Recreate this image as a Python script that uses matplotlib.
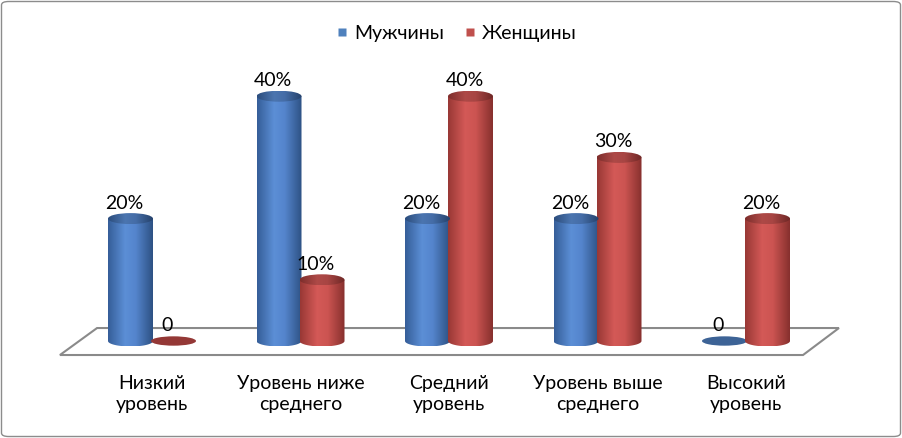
import numpy as np
import matplotlib
matplotlib.use("Agg")
import matplotlib.pyplot as plt
from matplotlib.patches import Ellipse, Polygon, FancyBboxPatch
from matplotlib.lines import Line2D
from matplotlib.path import Path

plt.rcParams['font.family'] = ['Lato', 'DejaVu Sans']

# data
categories = ["Низкий\nуровень", "Уровень ниже\nсреднего", "Средний\nуровень",
              "Уровень выше\nсреднего", "Высокий\nуровень"]
men = [20, 40, 20, 20, 0]
women = [0, 10, 40, 30, 20]
series_names = ["Мужчины", "Женщины"]

# look
px_x = 148.5          # pixels per category
px_y = 6.12           # pixels per percent
half_w = 22.5 / px_x  # cylinder half width (category units)
half_h = 5.5 / px_y   # ellipse half height (percent units)
offset = 21.5 / px_x

stops_blue = [(0.0, (0.21, 0.37, 0.60)), (0.38, (0.36, 0.56, 0.84)),
              (0.62, (0.33, 0.52, 0.80)), (1.0, (0.18, 0.32, 0.52))]
stops_red = [(0.0, (0.60, 0.22, 0.21)), (0.38, (0.83, 0.35, 0.34)),
             (0.62, (0.80, 0.33, 0.32)), (1.0, (0.53, 0.19, 0.18))]
disk_col = [(0.24, 0.39, 0.59), (0.58, 0.22, 0.21)]
legend_col = ["#4F81BD", "#C0504D"]


def gradient(stops, scale=1.0, n=64):
    pos = np.array([s[0] for s in stops])
    cols = np.array([s[1] for s in stops])
    t = np.linspace(0, 1, n)
    g = np.stack([np.interp(t, pos, cols[:, k]) for k in range(3)], axis=-1)
    return np.clip(g * scale, 0, 1)[None, :, :]


fig = plt.figure(figsize=(9.02, 4.38), dpi=100)
ax = fig.add_axes([0, 0, 1, 1])
ax.set_axis_off()

# floor
floor = Polygon([(-0.62, -2.29), (-0.37, 2.12), (4.626, 2.12), (4.384, -2.29)],
                closed=True, facecolor="white", edgecolor="#8a8a8a", lw=1.5, zorder=1)
ax.add_patch(floor)


def cylinder(cx, val, stops, dcol):
    if val == 0:
        ax.add_patch(Ellipse((cx, 0), 2 * half_w, 2 * half_h * 0.85,
                             facecolor=dcol, edgecolor="none", zorder=3))
        return
    t = np.linspace(np.pi, 2 * np.pi, 40)
    verts = [(cx - half_w, val)] + [(cx + half_w * np.cos(a), half_h * np.sin(a)) for a in t] \
        + [(cx + half_w, val), (cx - half_w, val)]
    codes = [Path.MOVETO] + [Path.LINETO] * (len(verts) - 2) + [Path.CLOSEPOLY]
    body = Path(verts, codes)
    im = ax.imshow(gradient(stops), extent=[cx - half_w, cx + half_w, -half_h, val],
                   aspect="auto", origin="lower", zorder=3, interpolation="bilinear")
    im.set_clip_path(body, transform=ax.transData)
    top = Ellipse((cx, val), 2 * half_w, 2 * half_h, facecolor="none", edgecolor="none")
    ax.add_patch(top)
    imt = ax.imshow(gradient(stops, 0.82), extent=[cx - half_w, cx + half_w, val - half_h, val + half_h],
                    aspect="auto", origin="lower", zorder=4, interpolation="bilinear")
    imt.set_clip_path(top)


for i in range(len(categories)):
    for s, vals in enumerate([men, women]):
        cx = i + (-offset if s == 0 else offset)
        v = vals[i]
        cylinder(cx, v, stops_blue if s == 0 else stops_red, disk_col[s])
        lab = "0" if v == 0 else f"{v}%"
        ax.text(cx - 6 / px_x, v + (half_h + 4.5 / px_y), lab, ha="center", va="baseline",
                fontsize=14, color="black", zorder=5)
    ax.text(i, -34 / px_y, categories[i], ha="center", va="top", fontsize=14,
            linespacing=1.3, color="black")

ax.set_xlim(-152 / px_x, (902 - 152) / px_x)
ax.set_ylim(-(438 - 341) / px_y, 341 / px_y)

handles = [Line2D([], [], marker="s", linestyle="none", markersize=6,
                  markerfacecolor=legend_col[k], markeredgecolor="none") for k in range(2)]
fig.legend(handles, series_names, loc="center", bbox_to_anchor=(457 / 902, 1 - 33 / 438),
           ncol=2, frameon=False, fontsize=14, handlelength=0.5,
           handletextpad=0.35, columnspacing=1.1)

border = FancyBboxPatch((1.5 / 902, 1.5 / 438), 1 - 3 / 902, 1 - 3 / 438,
                        boxstyle="round,pad=0,rounding_size=0.008", transform=fig.transFigure,
                        facecolor="none", edgecolor="#8c8c8c", lw=1.0)
fig.patches.append(border)

fig.savefig("out.png", dpi=100)
